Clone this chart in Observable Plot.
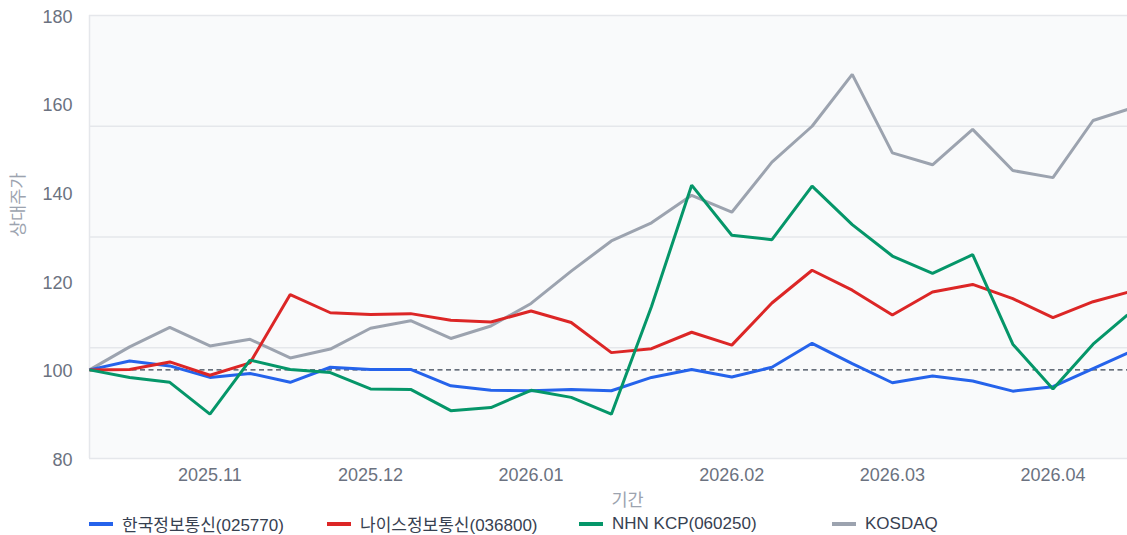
<!DOCTYPE html>
<html>
<head>
<meta charset="utf-8">
<script src="https://cdn.jsdelivr.net/npm/d3@7"></script>
<script src="https://cdn.jsdelivr.net/npm/@observablehq/plot@0.6"></script>
<style>
  html, body { margin: 0; padding: 0; background: #fff; overflow: hidden; }
  body { font-family: "Liberation Sans", Arial, "Noto Sans CJK KR", sans-serif; }
  #chart svg { display: block; }
  .legend { display: flex; align-items: center; height: 25px; padding-left: 89px; padding-top: 1px; font-size: 17px; color: #374151; }
  .legend .item { display: flex; align-items: center; white-space: nowrap; }
  .legend .sw { display: inline-block; width: 24px; height: 4px; margin-right: 9px; }
</style>
</head>
<body>
<div id="chart"></div>
<div class="legend" id="legend"></div>
<script>
const dates = ["2025-10-17","2025-10-24","2025-10-31","2025-11-07","2025-11-14","2025-11-21","2025-11-28",
  "2025-12-05","2025-12-12","2025-12-19","2025-12-26","2026-01-02","2026-01-09","2026-01-16","2026-01-23",
  "2026-01-30","2026-02-06","2026-02-13","2026-02-20","2026-02-27","2026-03-06","2026-03-13","2026-03-20",
  "2026-03-27","2026-04-03","2026-04-10","2026-04-16"];

const seriesNames = ["한국정보통신(025770)", "나이스정보통신(036800)", "NHN KCP(060250)", "KOSDAQ"];
const seriesColors = ["#2563eb", "#dc2626", "#059669", "#9ca3af"];

const kicc = [100, 102.0, 100.9, 98.3, 99.2, 97.2, 100.6, 100.1, 100.1, 96.4, 95.4, 95.3, 95.6, 95.3, 98.3,
  100.1, 98.4, 100.6, 106.0, 101.4, 97.1, 98.6, 97.5, 95.2, 96.2, 100.3, 103.8];
const nice = [100, 100.1, 101.8, 98.8, 101.6, 117.0, 112.9, 112.5, 112.7, 111.2, 110.8, 113.3, 110.7, 103.9, 104.8,
  108.5, 105.6, 115.1, 122.5, 118.0, 112.4, 117.6, 119.3, 116.1, 111.8, 115.4, 117.5];
const kcp = [100, 98.3, 97.2, 90.0, 102.2, 100.1, 99.4, 95.7, 95.6, 90.8, 91.5, 95.4, 93.8, 90.0, 114.3,
  141.7, 130.4, 129.4, 141.5, 132.8, 125.7, 121.8, 126.0, 105.8, 95.7, 105.8, 112.4];
const kosdaq = [100, 105.2, 109.6, 105.4, 106.9, 102.7, 104.7, 109.4, 111.1, 107.1, 109.9, 115.0, 122.3, 129.1, 133.2,
  139.4, 135.6, 146.9, 155.0, 166.7, 149.0, 146.3, 154.3, 145.0, 143.4, 156.3, 158.8];

const xTickDates = ["2025-11-07","2025-12-05","2026-01-02","2026-02-06","2026-03-06","2026-04-03"];
const yTicks = [80, 100, 120, 140, 160, 180];
const gridValues = [105, 130, 155];
const baseline = 100;
const xLabel = "기간";
const yLabel = "상대주가";

const parse = d3.utcParse("%Y-%m-%d");
const allSeries = [kicc, nice, kcp, kosdaq];
const rows = [];
allSeries.forEach((vals, s) => vals.forEach((v, i) => rows.push({date: parse(dates[i]), value: v, series: seriesNames[s]})));

const drawOrder = [seriesNames[3], seriesNames[0], seriesNames[1], seriesNames[2]];
const lineMarks = drawOrder.map(name => Plot.line(rows.filter(r => r.series === name), {
  x: "date", y: "value", stroke: seriesColors[seriesNames.indexOf(name)], strokeWidth: 3, strokeLinejoin: "miter", strokeLinecap: "butt"
}));

const chart = Plot.plot({
  width: 1127,
  height: 510,
  marginLeft: 89,
  marginRight: 0,
  marginTop: 15,
  marginBottom: 52,
  style: {fontFamily: '"Liberation Sans", Arial, "Noto Sans CJK KR", sans-serif', background: "#fff"},
  x: {type: "utc", domain: [parse(dates[0]), parse(dates[dates.length - 1])]},
  y: {domain: [yTicks[0], yTicks[yTicks.length - 1]]},
  marks: [
    Plot.frame({fill: "#f9fafb", stroke: null}),
    Plot.ruleY(gridValues, {stroke: "#e5e7eb", strokeWidth: 1.5}),
    Plot.ruleY([yTicks[0], yTicks[yTicks.length - 1]], {stroke: "#e5e7eb", strokeWidth: 1.5}),
    Plot.ruleX([parse(dates[0])], {stroke: "#e5e7eb", strokeWidth: 1.5}),
    Plot.ruleY([baseline], {stroke: "#374151", strokeWidth: 1.2, strokeDasharray: "5,3.5"}),
    ...lineMarks,
    Plot.axisY({ticks: yTicks, tickSize: 0, tickPadding: 17, dy: 1.5, fontSize: 18, color: "#6b7280", label: null}),
    Plot.axisX({ticks: xTickDates.map(parse), tickFormat: d3.utcFormat("%Y.%m"), tickSize: 0, tickPadding: 10, fontSize: 18, color: "#6b7280", label: null}),
    Plot.text([xLabel], {text: d => d, frameAnchor: "bottom", dx: 19, dy: 47, fontSize: 17.5, fill: "#9ca3af"}),
    Plot.text([yLabel], {text: d => d, frameAnchor: "left", dx: -71, rotate: -90, fontSize: 17.5, fill: "#9ca3af"})
  ]
});
document.getElementById("chart").appendChild(chart);

const widths = [238, 252, 253, null];
const legend = document.getElementById("legend");
seriesNames.forEach((name, i) => {
  const item = document.createElement("div");
  item.className = "item";
  if (widths[i]) item.style.width = widths[i] + "px";
  const sw = document.createElement("span");
  sw.className = "sw";
  sw.style.background = seriesColors[i];
  const t = document.createElement("span");
  t.textContent = name;
  item.appendChild(sw);
  item.appendChild(t);
  legend.appendChild(item);
});
</script>
</body>
</html>
